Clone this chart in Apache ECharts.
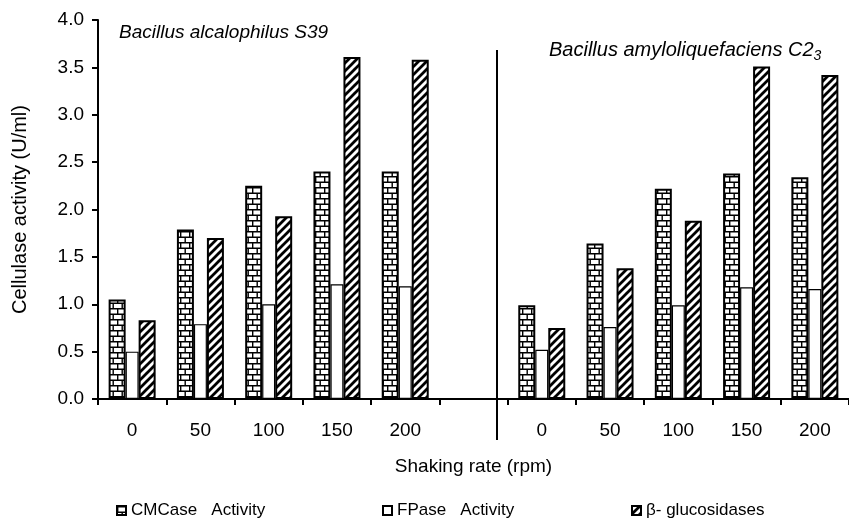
<!DOCTYPE html>
<html>
<head>
<meta charset="utf-8">
<script src="https://cdn.jsdelivr.net/npm/echarts@6/dist/echarts.min.js"></script>
<style>
  html, body { margin: 0; padding: 0; background: #fff; }
  #main { width: 849px; height: 525px; }
</style>
</head>
<body>
<div id="main"></div>
<script>
    // 数据
    var categories = ['0', '50', '100', '150', '200', '', '0', '50', '100', '150', '200'];
    var cmcase = [1.05, 1.79, 2.25, 2.40, 2.40, null, 0.99, 1.64, 2.22, 2.38, 2.34];
    var fpase = [0.50, 0.79, 1.00, 1.21, 1.19, null, 0.52, 0.76, 0.99, 1.18, 1.16];
    var glucosidases = [0.83, 1.70, 1.93, 3.61, 3.58, null, 0.75, 1.38, 1.88, 3.51, 3.42];
    var seriesNames = ['CMCase   Activity', 'FPase   Activity', 'β- glucosidases'];

    var fontFamily = '"Liberation Sans", Arial, sans-serif';

    // 砖块图案
    function brickPattern() {
        var c = document.createElement('canvas');
        c.width = 9; c.height = 11;
        var ctx = c.getContext('2d');
        ctx.fillStyle = '#fff';
        ctx.fillRect(0, 0, 9, 11);
        ctx.strokeStyle = '#000';
        ctx.lineWidth = 1.4;
        ctx.beginPath();
        ctx.moveTo(0, 0.7); ctx.lineTo(9, 0.7);
        ctx.moveTo(0, 6.2); ctx.lineTo(9, 6.2);
        ctx.moveTo(0.7, 0); ctx.lineTo(0.7, 6.2);
        ctx.moveTo(5.2, 6.2); ctx.lineTo(5.2, 11);
        ctx.stroke();
        return c;
    }
    // 斜线图案
    function hatchPattern() {
        var c = document.createElement('canvas');
        c.width = 8; c.height = 8;
        var ctx = c.getContext('2d');
        ctx.fillStyle = '#fff';
        ctx.fillRect(0, 0, 8, 8);
        ctx.strokeStyle = '#000';
        ctx.lineWidth = 2.8;
        ctx.beginPath();
        ctx.moveTo(-8, 8); ctx.lineTo(8, -8);
        ctx.moveTo(0, 8); ctx.lineTo(8, 0);
        ctx.moveTo(0, 16); ctx.lineTo(16, 0);
        ctx.stroke();
        return c;
    }

    var myChart = echarts.init(document.getElementById('main'));
    var option = {
        backgroundColor: '#fff',
        animation: false,
        textStyle: { fontFamily: fontFamily, color: '#000' },
        title: [{
            text: 'Bacillus alcalophilus S39',
            left: 114,
            top: 18,
            textStyle: { fontSize: 19, fontStyle: 'italic', fontWeight: 'normal', color: '#000', fontFamily: fontFamily }
        }, {
            text: '{a|Bacillus amyloliquefaciens C2}{s|3}',
            left: 544,
            top: 32,
            textStyle: {
                fontWeight: 'normal',
                rich: {
                    a: { fontSize: 20, fontStyle: 'italic', fontWeight: 'normal', color: '#000', fontFamily: fontFamily },
                    s: { fontSize: 14, fontStyle: 'italic', fontWeight: 'normal', color: '#000', fontFamily: fontFamily, verticalAlign: 'bottom', padding: [12, 0, 0, 0] }
                }
            }
        }],
        legend: [{
            data: [seriesNames[0]], left: 116, top: 502
        }, {
            data: [seriesNames[1]], left: 382, top: 502
        }, {
            data: [seriesNames[2]], left: 631, top: 502
        }].map(function (l) {
            l.padding = 0;
            l.itemWidth = 9;
            l.itemHeight = 9;
            l.itemGap = 4;
            l.icon = 'rect';
            l.textStyle = { fontSize: 17, color: '#000', fontFamily: fontFamily };
            return l;
        }),
        grid: {
            left: 98,
            top: 20,
            width: 759,
            height: 379,
            containLabel: false
        },
        xAxis: {
            type: 'category',
            data: categories,
            boundaryGap: true,
            name: 'Shaking rate (rpm)',
            nameLocation: 'middle',
            nameGap: 58,
            nameTextStyle: { fontSize: 19, color: '#000' },
            axisLine: { lineStyle: { color: '#000', width: 2 } },
            axisTick: { show: true, length: 6, lineStyle: { color: '#000', width: 2 } },
            axisLabel: { fontSize: 19, color: '#000', margin: 22 },
            splitLine: { show: false }
        },
        yAxis: {
            type: 'value',
            min: 0,
            max: 4,
            interval: 0.5,
            name: 'Cellulase activity (U/ml)',
            nameLocation: 'middle',
            nameGap: 68,
            nameTextStyle: { fontSize: 20, color: '#000' },
            axisLine: { show: true, lineStyle: { color: '#000', width: 2 } },
            axisTick: { show: true, length: 6, lineStyle: { color: '#000', width: 2 } },
            axisLabel: {
                fontSize: 19,
                color: '#000',
                margin: 14,
                formatter: function (v) { return v.toFixed(1); }
            },
            splitLine: { show: false }
        },
        graphic: [{
            type: 'line',
            shape: { x1: 497, y1: 50, x2: 497, y2: 440 },
            style: { stroke: '#000', lineWidth: 2 }
        }],
        series: [{
            name: seriesNames[0],
            type: 'bar',
            barWidth: 17,
            barGap: '0%',
            data: cmcase,
            itemStyle: {
                color: { image: brickPattern(), repeat: 'repeat' },
                borderColor: '#000',
                borderWidth: 2
            }
        }, {
            name: seriesNames[1],
            type: 'bar',
            barWidth: 13,
            barGap: '0%',
            data: fpase,
            itemStyle: {
                color: '#fff',
                borderColor: '#000',
                borderWidth: 1.2
            }
        }, {
            name: seriesNames[2],
            type: 'bar',
            barWidth: 17,
            barGap: '0%',
            data: glucosidases,
            itemStyle: {
                color: { image: hatchPattern(), repeat: 'repeat' },
                borderColor: '#000',
                borderWidth: 2
            }
        }]
    };
    myChart.setOption(option);
</script>
</body>
</html>
